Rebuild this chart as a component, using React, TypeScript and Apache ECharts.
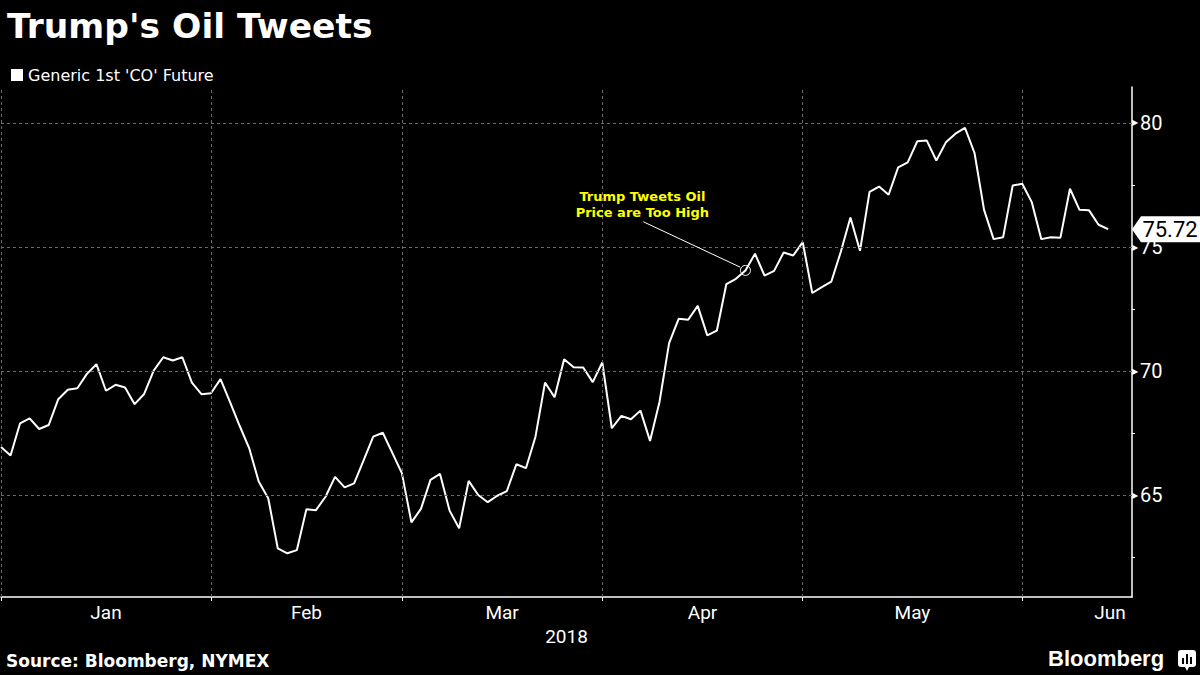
import React, { useEffect, useRef } from "react";
import * as echarts from "echarts";

const seriesName = "Generic 1st 'CO' Future";
const months = ["Jan", "Feb", "Mar", "Apr", "May", "Jun"];
// trading-day index of the first session of each month
const monthStartIdx = [0, 22, 42, 63, 84, 107];
// trading-day index where each month label sits
const monthLabelIdx = [11, 32, 52.5, 73.5, 95.5, 116.2];
const yLabelTicks = [65, 70, 75, 80];
const yMinorTicks = [62.5, 65, 67.5, 70, 72.5, 75, 77.5, 80];

const prices = [
  66.94, 66.6, 67.9, 68.1, 67.67, 67.83, 68.87, 69.25, 69.31, 69.89, 70.28, 69.21,
  69.45, 69.34, 68.67, 69.08, 70.02, 70.56, 70.43, 70.56, 69.54, 69.07, 69.11,
  69.68, 68.75, 67.8, 66.9, 65.55, 64.88, 62.86, 62.66, 62.79, 64.44, 64.4, 64.94,
  65.74, 65.32, 65.48, 66.42, 67.36, 67.52, 66.71, 65.89,
  63.91, 64.45, 65.62, 65.86, 64.38, 63.67, 65.58, 65.01, 64.72, 64.98, 65.17,
  66.25, 66.09, 67.36, 69.54, 68.95, 70.48, 70.16, 70.15, 69.56, 70.35,
  67.7, 68.2, 68.06, 68.41, 67.19, 68.77, 71.13, 72.11, 72.07, 72.63, 71.44,
  71.63, 73.51, 73.72, 74.06, 74.73, 73.85, 74.04, 74.78, 74.66, 75.2,
  73.15, 73.39, 73.61, 74.82, 76.19, 74.85, 77.22, 77.44, 77.11, 78.21, 78.41,
  79.26, 79.29, 78.49, 79.22, 79.57, 79.8, 78.79, 76.5, 75.32, 75.4,
  77.48, 77.55, 76.81, 75.32, 75.4, 75.38, 77.35, 76.5, 76.48, 75.9, 75.72,
];

const tweetIdx = 78;
const tweetText = "Trump Tweets Oil\nPrice are Too High";

const FONT = "Roboto";

export default function App() {
  const ref = useRef<HTMLDivElement>(null);
  useEffect(() => {
    if (!ref.current) return;
    const chart = echarts.init(ref.current, undefined, { renderer: "svg" });
    const data = prices.map((v, i) => [i, v]);
    const lastIdx = prices.length - 1;
    const last = prices[lastIdx];
    const gridStyle = { color: "#6a6a6a", type: [3, 3], width: 1 };

    chart.setOption({
      animation: false,
      backgroundColor: "#000000",
      title: {
        text: "Trump's Oil Tweets",
        left: 2,
        top: 3,
        textStyle: {
          color: "#ffffff",
          fontSize: 34.5,
          fontWeight: "bold",
          fontFamily: "DejaVu Sans",
        },
      },
      legend: {
        data: [seriesName],
        left: 6,
        top: 62,
        icon: "rect",
        itemWidth: 12,
        itemHeight: 12,
        itemGap: 4,
        textStyle: { color: "#ffffff", fontSize: 16, fontFamily: "DejaVu Sans" },
      },
      grid: { left: 1, right: 68, top: 87, bottom: 78 },
      xAxis: {
        type: "value",
        min: 0,
        max: 118.5,
        name: "2018",
        nameLocation: "middle",
        nameGap: 26,
        nameTextStyle: { color: "#ffffff", fontSize: 19, fontFamily: FONT },
        splitLine: { show: false },
        axisLine: { show: true, onZero: false, lineStyle: { color: "#ffffff", width: 1.5 } },
        axisTick: {
          show: true,
          customValues: monthStartIdx,
          length: 4,
          lineStyle: { color: "#ffffff" },
        },
        axisLabel: {
          customValues: monthLabelIdx,
          color: "#ffffff",
          fontSize: 19,
          fontFamily: FONT,
          margin: 6,
          formatter: (v: number) => {
            const k = monthLabelIdx.indexOf(v);
            return k >= 0 ? months[k] : "";
          },
        },
      },
      yAxis: {
        type: "value",
        position: "right",
        min: 60.9,
        max: 81.45,
        splitLine: { show: false },
        axisLine: { show: true, onZero: false, lineStyle: { color: "#ffffff", width: 1.5 } },
        axisTick: {
          show: true,
          customValues: yMinorTicks,
          length: 3,
          lineStyle: { color: "#ffffff" },
        },
        axisLabel: {
          customValues: yLabelTicks,
          color: "#ffffff",
          fontSize: 20,
          fontFamily: FONT,
          margin: 0,
          formatter: (v: number) => `{t|▶}{v|${v}}`,
          rich: {
            t: { fontSize: 8, color: "#ffffff", padding: [0, 2, 0, 0] },
            v: { fontSize: 20, color: "#ffffff", fontFamily: FONT },
          },
        },
      },
      series: [
        {
          name: "grid",
          type: "line",
          data,
          symbol: "none",
          silent: true,
          z: 1,
          lineStyle: { opacity: 0 },
          markLine: {
            silent: true,
            symbol: ["none", "none"],
            label: { show: false },
            lineStyle: gridStyle,
            data: [
              ...yLabelTicks.map((v) => ({ yAxis: v })),
              ...monthStartIdx.map((i) => ({ xAxis: i })),
            ],
          },
        },
        {
          name: seriesName,
          type: "line",
          data,
          symbol: "none",
          z: 3,
          itemStyle: { color: "#ffffff" },
          lineStyle: { color: "#ffffff", width: 2 },
          markLine: {
            silent: true,
            symbol: ["none", "none"],
            label: { show: false },
            lineStyle: { color: "#ffffff", width: 1, type: "solid" },
            data: [
              [
                { coord: [67.3, 76.02] },
                { coord: [tweetIdx - 0.55, prices[tweetIdx] + 0.13] },
              ],
            ],
          },
          markPoint: {
            silent: true,
            data: [
              {
                coord: [tweetIdx, prices[tweetIdx]],
                symbol: "circle",
                symbolSize: 10,
                itemStyle: {
                  color: "rgba(0,0,0,0)",
                  borderColor: "#ffffff",
                  borderWidth: 1,
                },
                label: { show: false },
              },
              {
                coord: [67.2, 76.7],
                symbol: "circle",
                symbolSize: 1,
                itemStyle: { color: "rgba(0,0,0,0)" },
                label: {
                  show: true,
                  position: "inside",
                  formatter: tweetText,
                  color: "#ffff00",
                  fontSize: 13,
                  fontWeight: "bold",
                  lineHeight: 16,
                  align: "center",
                  fontFamily: "DejaVu Sans",
                },
              },
              {
                coord: [118.5, last],
                symbol: "path://M0,13 L9,0 L68,0 L68,26 L9,26 Z",
                symbolSize: [68, 26],
                symbolOffset: [34, 0],
                itemStyle: { color: "#ffffff" },
                label: {
                  show: true,
                  position: "inside",
                  offset: [4, 0],
                  formatter: last.toFixed(2),
                  color: "#000000",
                  fontSize: 22,
                  fontFamily: FONT,
                },
              },
            ],
          },
        },
      ],
      graphic: [
        {
          type: "text",
          left: 6,
          top: 652,
          style: {
            text: "Source: Bloomberg, NYMEX",
            fill: "#ffffff",
            fontSize: 17,
            fontWeight: "bold",
            fontFamily: "DejaVu Sans",
          },
        },
        {
          type: "text",
          left: 1048,
          top: 647,
          style: {
            text: "Bloomberg",
            fill: "#ffffff",
            fontSize: 22,
            fontWeight: "bold",
            fontFamily: "Liberation Sans",
          },
        },
        {
          type: "group",
          left: 1178,
          top: 650,
          children: [
            { type: "rect", shape: { x: 0, y: 0, width: 18, height: 17, r: 3 }, style: { fill: "#ffffff" } },
            { type: "polygon", shape: { points: [[7, 17], [11, 17], [9, 21]] }, style: { fill: "#ffffff" } },
            { type: "rect", shape: { x: 4, y: 8, width: 2, height: 6 }, style: { fill: "#000000" } },
            { type: "rect", shape: { x: 8, y: 4, width: 2, height: 10 }, style: { fill: "#000000" } },
            { type: "rect", shape: { x: 12, y: 7, width: 2, height: 7 }, style: { fill: "#000000" } },
          ],
        },
      ],
    });
    return () => chart.dispose();
  }, []);

  return (
    <div
      ref={ref}
      style={{ position: "absolute", left: 0, top: 0, width: 1200, height: 675, background: "#000" }}
    />
  );
}
